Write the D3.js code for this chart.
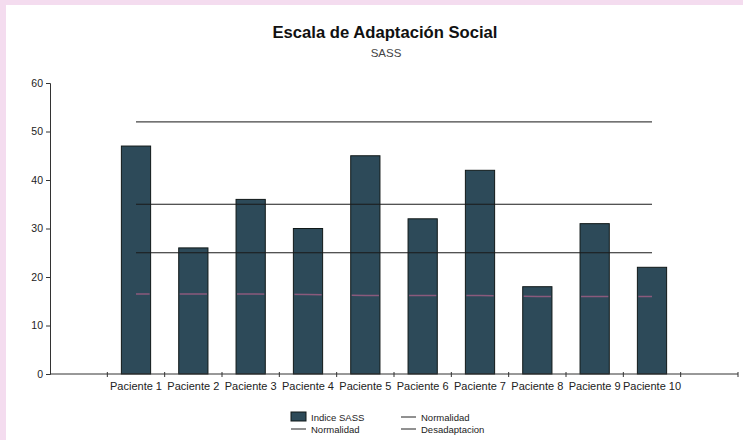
<!DOCTYPE html>
<html>
<head>
<meta charset="utf-8">
<script src="https://cdn.jsdelivr.net/npm/d3@7"></script>
<style>
  html, body { margin: 0; padding: 0; background: #fff; }
  svg { display: block; font-family: "Liberation Sans", Arial, sans-serif; }
</style>
</head>
<body>
<svg id="chart" width="743" height="440"></svg>
<script>
// Patients and their SASS index
const categories = ["Paciente 1", "Paciente 2", "Paciente 3", "Paciente 4", "Paciente 5",
                    "Paciente 6", "Paciente 7", "Paciente 8", "Paciente 9", "Paciente 10"];
const indiceSASS = [47, 26, 36, 30, 45, 32, 42, 18, 31, 22];

// Reference lines (one value per patient)
const normalidadAlta = [52, 52, 52, 52, 52, 52, 52, 52, 52, 52];
const normalidad     = [35, 35, 35, 35, 35, 35, 35, 35, 35, 35];
const desadaptacion  = [25, 25, 25, 25, 25, 25, 25, 25, 25, 25];
const lineaClara     = [16.5, 16.5, 16.5, 16.4, 16.2, 16.2, 16.2, 16, 16, 16];

const yTicks = [0, 10, 20, 30, 40, 50, 60];
const legendItems = [
  { label: "Indice SASS",   type: "bar"  },
  { label: "Normalidad",    type: "line" },
  { label: "Normalidad",    type: "line" },
  { label: "Desadaptacion", type: "line" }
];

const svg = d3.select("#chart");
const W = 743, H = 440;

// pink frame along the top and left edges
svg.append("rect").attr("x", 0).attr("y", 0).attr("width", W).attr("height", H).attr("fill", "#f4dcef");
svg.append("rect").attr("x", 6).attr("y", 5).attr("width", W - 6).attr("height", H - 5).attr("fill", "#ffffff");

const plot = { left: 50, right: 738, top: 83, bottom: 374 };

const x = d3.scaleBand()
  .domain(categories)
  .range([plot.left, plot.right])
  .paddingOuter(1)
  .paddingInner(0);

const y = d3.scaleLinear().domain([0, 60]).range([plot.bottom, plot.top]);

const barW = x.bandwidth() * 0.51;
const cx = d => x(d) + x.bandwidth() / 2;

// titles
svg.append("text").attr("x", 385).attr("y", 38).attr("text-anchor", "middle")
  .attr("font-size", 16.5).attr("font-weight", "bold").attr("fill", "#111")
  .attr("textLength", 225).attr("lengthAdjust", "spacingAndGlyphs")
  .text("Escala de Adaptación Social");
svg.append("text").attr("x", 386).attr("y", 57).attr("text-anchor", "middle")
  .attr("font-size", 11.5).attr("fill", "#444")
  .text("SASS");

// bars
const bars = svg.append("g");
bars.selectAll("rect").data(categories).join("rect")
  .attr("x", (d) => cx(d) - barW / 2)
  .attr("y", (d, i) => y(indiceSASS[i]))
  .attr("width", barW)
  .attr("height", (d, i) => y(0) - y(indiceSASS[i]))
  .attr("fill", "#2d4a59")
  .attr("stroke", "#101818")
  .attr("stroke-width", 1);

// light series only shows against the bars
const clip = svg.append("defs").append("clipPath").attr("id", "barsClip");
clip.selectAll("rect").data(categories).join("rect")
  .attr("x", (d) => cx(d) - barW / 2 + 1)
  .attr("y", (d, i) => y(indiceSASS[i]))
  .attr("width", barW - 2)
  .attr("height", (d, i) => y(0) - y(indiceSASS[i]));

const line = d3.line().x((d, i) => cx(categories[i])).y(d => y(d));

svg.append("path").datum(lineaClara)
  .attr("d", line).attr("fill", "none")
  .attr("stroke", "#8a5a7c").attr("stroke-width", 1.5)
  .attr("clip-path", "url(#barsClip)");

[normalidadAlta, normalidad, desadaptacion].forEach((s, k) => {
  svg.append("path").datum(s)
    .attr("d", line).attr("fill", "none")
    .attr("stroke", k === 0 ? "#444" : "#1a1a1a").attr("stroke-width", 1.2);
});

// y axis
const yAxis = svg.append("g").attr("transform", `translate(${plot.left},0)`)
  .call(d3.axisLeft(y).tickValues(yTicks).tickSize(4).tickPadding(3));
yAxis.select(".domain").attr("stroke", "#333");
yAxis.selectAll(".tick line").attr("stroke", "#333");
yAxis.selectAll("text").attr("font-size", 10.5).attr("fill", "#222")
  .attr("font-family", "Liberation Sans, Arial, sans-serif");

// x axis: ticks at category boundaries
const xg = svg.append("g");
xg.append("line").attr("x1", plot.left).attr("x2", plot.right)
  .attr("y1", plot.bottom).attr("y2", plot.bottom).attr("stroke", "#333");
const bounds = categories.map(d => x(d)).concat([x(categories[categories.length - 1]) + x.bandwidth(), plot.right]);
xg.selectAll("line.tk").data(bounds).join("line").attr("class", "tk")
  .attr("x1", d => d).attr("x2", d => d)
  .attr("y1", plot.bottom - 2).attr("y2", plot.bottom + 3).attr("stroke", "#333");
xg.selectAll("text").data(categories).join("text")
  .attr("x", d => cx(d)).attr("y", 390).attr("text-anchor", "middle")
  .attr("font-size", 11).attr("fill", "#222")
  .text(d => d);

// legend
const legPos = [[291, 417], [401, 417], [291, 429], [401, 429]];
const leg = svg.append("g");
legendItems.forEach((it, i) => {
  const [lx, ly] = legPos[i];
  if (it.type === "bar") {
    leg.append("rect").attr("x", lx).attr("y", ly - 5).attr("width", 15).attr("height", 9)
      .attr("fill", "#2d4a59").attr("stroke", "#101818");
  } else {
    leg.append("line").attr("x1", lx).attr("x2", lx + 15).attr("y1", ly).attr("y2", ly)
      .attr("stroke", "#222").attr("stroke-width", 1);
  }
  leg.append("text").attr("x", lx + 20).attr("y", ly + 3.5)
    .attr("font-size", 9.5).attr("fill", "#222").text(it.label);
});
</script>
</body>
</html>
